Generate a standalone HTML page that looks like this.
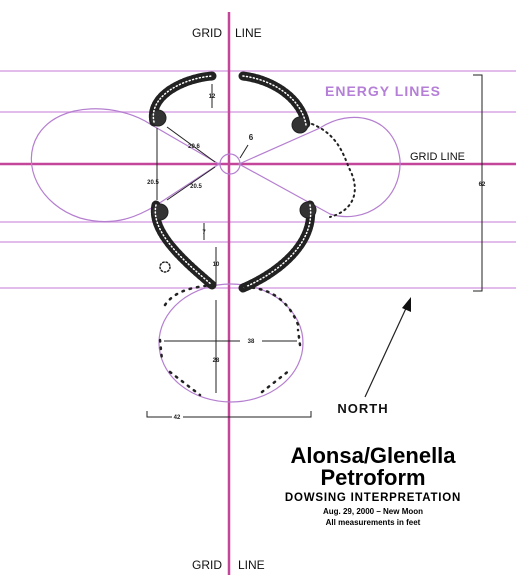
<!DOCTYPE html>
<html><head><meta charset="utf-8"><style>
html,body{margin:0;padding:0;background:#fff;width:516px;height:588px;overflow:hidden}
svg{display:block;font-family:"Liberation Sans",Arial,sans-serif}
</style></head><body>
<svg width="516" height="588" viewBox="0 0 516 588">
<g stroke="#d9a6e3" stroke-width="1.5">
<line x1="0" y1="71" x2="516" y2="71"/>
<line x1="0" y1="112" x2="516" y2="112"/>
<line x1="0" y1="222" x2="516" y2="222"/>
<line x1="0" y1="242" x2="516" y2="242"/>
<line x1="0" y1="288" x2="516" y2="288"/>
</g>
<line x1="0" y1="164" x2="516" y2="164" stroke="#c3469a" stroke-width="2.5"/>
<line x1="229" y1="12" x2="229" y2="575" stroke="#c3469a" stroke-width="2.5"/>
<g fill="none" stroke="#b57fd0" stroke-width="1.2">
<path d="M219,164 L150,124 C120,104 60,100 38,135 C20,165 40,205 80,218 C115,228 140,215 155,206 Z"/>
<path d="M239,164 L320,128 C350,108 395,115 400,160 C402,200 365,225 330,214 Z"/>
<circle cx="230" cy="164" r="10"/>
<ellipse cx="231" cy="343" rx="72" ry="59"/>
</g>
<g fill="none" stroke="#222" stroke-linecap="round">
<path d="M154,122 C148,95 185,78 212,76 M243,76 C275,80 302,100 306,125" stroke-width="9" stroke-dasharray="3 1.5"/>
<path d="M156,205 C150,232 185,262 212,285 M310,205 C316,242 280,272 243,288" stroke-width="9" stroke-dasharray="3 1.5"/>
<circle cx="158" cy="118" r="8" fill="#333"/><circle cx="300" cy="125" r="8" fill="#333"/>
<circle cx="160" cy="212" r="8" fill="#333"/><circle cx="308" cy="210" r="8" fill="#333"/>
<path d="M154,122 C148,95 185,78 212,76 M243,76 C275,80 302,100 306,125 M156,205 C150,232 185,262 212,285 M310,205 C316,242 280,272 243,288" stroke="#fff" stroke-width="1.5" stroke-dasharray="1 2.5"/>
<path d="M312,124 C340,135 345,160 350,170 C360,190 355,210 330,217" stroke-width="2" stroke-dasharray="1.5 4"/>
<circle cx="165" cy="267" r="5" stroke-width="1.5" stroke-dasharray="1.5 2"/>
<path d="M165,305 C175,290 195,287 212,285 M245,287 C270,288 290,300 300,330 M160,340 L162,360 M170,372 L200,395 M262,392 L290,370 M300,345 L298,330" stroke-width="2.5" stroke-dasharray="1.5 6"/>
</g>
<g stroke="#222" stroke-width="1" fill="#222" font-size="6" font-weight="bold" text-anchor="middle">
<line x1="212" y1="84" x2="212" y2="108"/><text x="212" y="98" stroke="none">12</text>
<line x1="167" y1="127" x2="215" y2="162"/><text x="194" y="148" stroke="none">20.6</text>
<line x1="167" y1="200" x2="215" y2="167"/><text x="196" y="188" stroke="none">20.5</text>
<line x1="157" y1="128" x2="157" y2="200"/><text x="153" y="184" stroke="none">20.5</text>
<line x1="240" y1="158" x2="248" y2="145"/><text x="251" y="140" stroke="none" font-size="8">6</text>
<line x1="204" y1="223" x2="204" y2="240"/><text x="204" y="234" stroke="none">7</text>
<line x1="216" y1="247" x2="216" y2="285"/><text x="216" y="266" stroke="none">10</text>
<line x1="216" y1="300" x2="216" y2="393"/><text x="216" y="362" stroke="none" fill="#222">28</text>
<line x1="164" y1="341" x2="240" y2="341"/><line x1="262" y1="341" x2="297" y2="341"/><text x="251" y="343" stroke="none">38</text>
<path d="M147,411 V417 H172 M183,417 H311 V411" fill="none"/><text x="177" y="419" stroke="none">42</text>
<path d="M473,75 H482 V291 H473" fill="none"/><text x="482" y="186" stroke="none">62</text>
</g>
<g>
<line x1="365" y1="397" x2="408" y2="304" stroke="#222" stroke-width="1.2"/>
<polygon points="411,297 402,308 411,312" fill="#111"/>
<text x="363" y="413" font-size="13" font-weight="bold" text-anchor="middle" letter-spacing="1" fill="#111">NORTH</text>
</g>
<text x="383" y="96" font-size="14" font-weight="bold" fill="#b57fd8" text-anchor="middle" letter-spacing="1">ENERGY LINES</text>
<text x="410" y="160" font-size="11" fill="#111">GRID LINE</text>
<text font-size="12" fill="#111"><tspan x="192" y="37">GRID</tspan><tspan x="235" y="37">LINE</tspan></text>
<text font-size="12" fill="#111"><tspan x="192" y="569">GRID</tspan><tspan x="238" y="569">LINE</tspan></text>
<g text-anchor="middle" fill="#000">
<text x="373" y="463" font-size="22" font-weight="bold">Alonsa/Glenella</text>
<text x="373" y="485" font-size="22" font-weight="bold">Petroform</text>
<text x="373" y="501" font-size="11.5" font-weight="bold" letter-spacing="0.8">DOWSING INTERPRETATION</text>
<text x="373" y="514" font-size="8" font-weight="bold">Aug. 29, 2000 – New Moon</text>
<text x="373" y="525" font-size="8" font-weight="bold">All measurements in feet</text>
</g>
</svg>
</body></html>
